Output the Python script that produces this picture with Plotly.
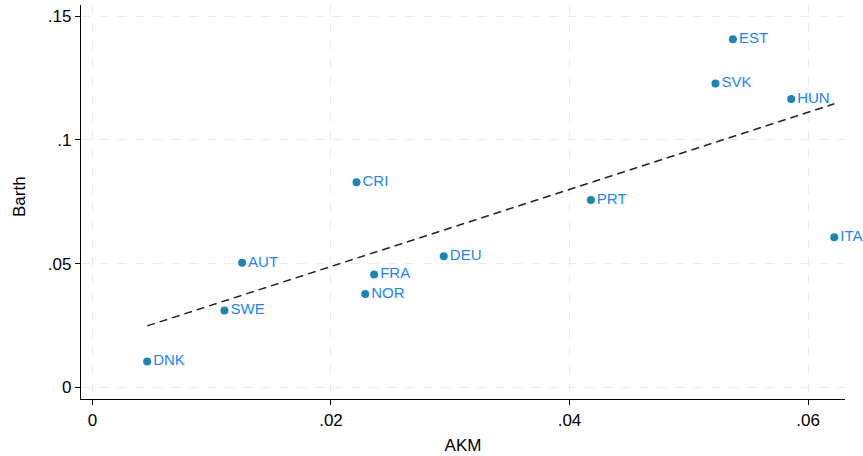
import numpy as np
import plotly.graph_objects as go

countries = ["DNK", "SWE", "AUT", "CRI", "FRA", "NOR", "DEU", "PRT", "EST", "SVK", "HUN", "ITA"]
akm = [0.00459, 0.01107, 0.01255, 0.02214, 0.02362, 0.02287, 0.02946, 0.04179, 0.0537, 0.05224, 0.05859, 0.0622]
barth = [0.0104, 0.0310, 0.0503, 0.0829, 0.0456, 0.0377, 0.0530, 0.0757, 0.1407, 0.1228, 0.1166, 0.0607]

x_ticks = [0, 0.02, 0.04, 0.06]
x_labels = ["0", ".02", ".04", ".06"]
y_ticks = [0, 0.05, 0.1, 0.15]
y_labels = ["0", ".05", ".1", ".15"]

# linear fit (OLS) over the observed range
slope, intercept = np.polyfit(akm, barth, 1)
fx = np.array([min(akm), max(akm)])
fy = intercept + slope * fx

fig = go.Figure()
fig.add_trace(go.Scatter(
    x=fx, y=fy, mode="lines",
    line=dict(color="#222222", width=1.5, dash="8px,5px"),
    hoverinfo="skip", showlegend=False,
))
fig.add_trace(go.Scatter(
    x=akm, y=barth, mode="markers+text",
    text=countries, textposition="middle right",
    textfont=dict(family="Liberation Sans, Arial, sans-serif", size=15, color="#1a85ff"),
    marker=dict(color="#1a86b5", size=8),
    cliponaxis=False,
    showlegend=False,
))

grid = dict(showgrid=True, gridcolor="#ebebeb", gridwidth=1, griddash="dash")
fig.update_layout(
    width=863, height=456,
    margin=dict(l=81, r=18, t=5, b=57),
    paper_bgcolor="white", plot_bgcolor="white",
    font=dict(family="Liberation Sans, Arial, sans-serif", size=17, color="black"),
    showlegend=False,
    annotations=[dict(
        text="Barth", textangle=-90, showarrow=False,
        xref="paper", yref="paper", x=0, y=0.5,
        xanchor="center", yanchor="middle",
        xshift=-62, yshift=5,
        font=dict(size=17, color="black"),
    )],
)
fig.update_xaxes(
    range=[-0.00096, 0.0631], tickvals=x_ticks, ticktext=x_labels,
    showline=True, linecolor="black", linewidth=1.2, mirror=False,
    ticks="outside", ticklen=5, tickcolor="black",
    zeroline=False,
    title=dict(text="AKM", font=dict(size=17), standoff=10),
    **grid,
)
fig.update_yaxes(
    range=[-0.00477, 0.1546], tickvals=y_ticks, ticktext=y_labels,
    showline=True, linecolor="black", linewidth=1.2, mirror=False,
    ticks="outside", ticklen=5, tickcolor="black",
    zeroline=False,
    **grid,
)

fig.write_html("out.html")
